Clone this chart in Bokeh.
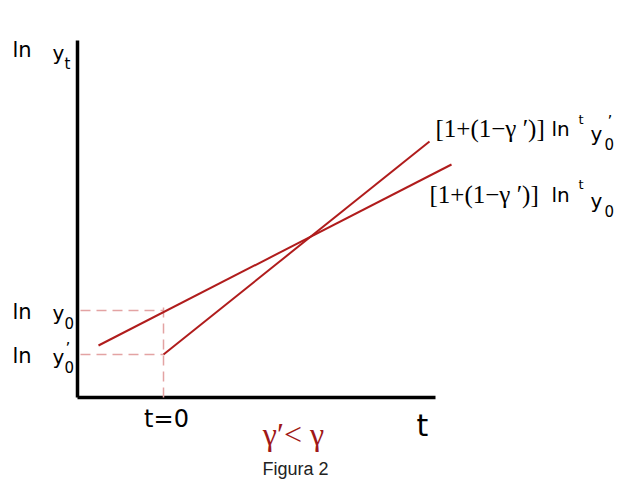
from bokeh.plotting import figure
from bokeh.models import Range1d
from bokeh.core.properties import value
from bokeh.embed import file_html
from bokeh.resources import INLINE

# --- data (t in abstract units, ln y in abstract units) ---
t_line_y0 = [-0.65, 2.88]          # line starting from ln y0 (flatter, gamma)
lny_line_y0 = [0.52, 2.33]
t_line_y0p = [0.0, 2.66]           # line starting from ln y0' (steeper, gamma')
lny_line_y0p = [0.43, 2.56]
lny0 = 0.87
lny0p = 0.43
t0 = 0.0
axis_t = [-0.86, 2.72]
axis_lny = [0.0, 3.57]

RED = "#b01c1c"
PINK = "#e3a3a3"
SANS = value("DejaVu Sans")
SERIF = value("Liberation Serif")

p = figure(width=614, height=479, output_backend="svg", toolbar_location=None,
           x_range=Range1d(-1.63, 4.51), y_range=Range1d(-0.82, 3.97),
           min_border=0, outline_line_color=None)
p.axis.visible = False
p.grid.visible = False

# axes drawn as thick black lines
p.line([axis_t[0], axis_t[0]], [axis_lny[0], axis_lny[1]], line_color="black", line_width=3.5)
p.line([axis_t[0], axis_t[1]], [axis_lny[0], axis_lny[0]], line_color="black", line_width=3.5)

# guide dashes
p.line([axis_t[0] + 0.03, t0], [lny0, lny0], line_color=PINK, line_width=1.5, line_dash="10 6")
p.line([axis_t[0] + 0.03, t0], [lny0p, lny0p], line_color=PINK, line_width=1.5, line_dash="10 6")
p.line([t0, t0], [0.0, lny0 + 0.05], line_color=PINK, line_width=1.5, line_dash="10 6")

# the two growth paths
p.line(t_line_y0, lny_line_y0, line_color=RED, line_width=2)
p.line(t_line_y0p, lny_line_y0p, line_color=RED, line_width=2)

def txt(x, y, s, size, font=SANS, color="black", align="left", baseline="middle"):
    p.text(x=[x], y=[y], text=[s], text_font=font, text_font_size=f"{size}px",
           text_color=color, text_align=align, text_baseline=baseline)

# y-axis title
txt(-1.51, 3.48, "ln", 21)
txt(-1.11, 3.45, "y", 20)
txt(-0.99, 3.34, "t", 15)

# ln y0
txt(-1.51, 0.86, "ln", 21)
txt(-1.11, 0.85, "y", 20)
txt(-0.99, 0.75, "0", 15)
# ln y0'
txt(-1.51, 0.42, "ln", 21)
txt(-1.11, 0.41, "y", 20)
txt(-0.99, 0.31, "0", 15)
txt(-0.98, 0.49, "\u2019", 15)

# right labels
txt(2.72, 2.69, "[1+(1\u2212\u03b3 \u2032)]", 25, font=SERIF)
txt(3.88, 2.69, "ln", 20)
txt(4.15, 2.78, "t", 13)
txt(4.27, 2.64, "y", 20)
txt(4.41, 2.54, "0", 15)
txt(4.44, 2.76, "\u2019", 15)

txt(2.66, 2.03, "[1+(1\u2212\u03b3 \u2032)]", 25, font=SERIF)
txt(3.88, 2.03, "ln", 20)
txt(4.15, 2.13, "t", 13)
txt(4.27, 1.97, "y", 20)
txt(4.41, 1.87, "0", 15)

# x-axis labels
txt(0.03, -0.21, "t=0", 24, align="center")
txt(2.59, -0.28, "t", 30, align="center")
txt(1.30, -0.36, "\u03b3\u2032< \u03b3", 32, font=SERIF, color="#a01818", align="center")

# caption
txt(1.32, -0.71, "Figura 2", 18, font=value("Liberation Sans"), color="#222222", align="center")

open("out.html", "w").write(file_html(p, INLINE))
